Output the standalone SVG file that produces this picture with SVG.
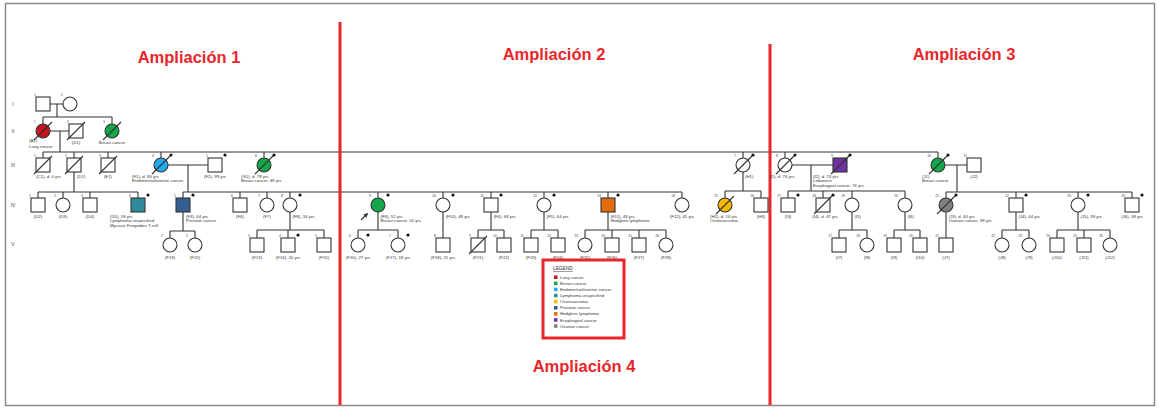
<svg xmlns="http://www.w3.org/2000/svg" xmlns:xlink="http://www.w3.org/1999/xlink" width="1159" height="408" viewBox="0 0 1159 408">
<style>
.s{fill:#fff;stroke:#333;stroke-width:1.1}
.ln{fill:none;stroke:#333;stroke-width:1.1}
.t{font-family:"Liberation Sans",Arial,sans-serif;font-size:4.3px;fill:#333}
.c{text-anchor:middle}
.n{font-family:"Liberation Sans",Arial,sans-serif;font-size:3.4px;fill:#444;text-anchor:end}
.g{font-family:"Liberation Sans",Arial,sans-serif;font-size:5px;fill:#444;text-anchor:middle}
.ttl{font-family:"Liberation Sans",Arial,sans-serif;font-size:16.5px;font-weight:bold;fill:#e8262b;text-anchor:middle}
.rl{stroke:#e8262b;stroke-width:3}
.lung{fill:#c8141e}.breast{fill:#12a84a}.endo{fill:#22aaee}.lymph{fill:#2f8a9c}.osteo{fill:#f7b900}.prost{fill:#365f91}.hodg{fill:#e46c0a}.eso{fill:#7030a0}.ova{fill:#808080}
</style>
<defs>
<line id="sl" x1="-9" y1="9" x2="9" y2="-9" stroke="#333" stroke-width="1.1"/>
<circle id="dt" cx="10" cy="-10" r="1.6" fill="#111"/>
<marker id="ah" viewBox="0 0 6 6" refX="5" refY="3" markerWidth="4" markerHeight="4" orient="auto"><path d="M0,0 L6,3 L0,6 z" fill="#333"/></marker>
</defs>
<rect x="5.5" y="3.5" width="1149" height="402" fill="#fff" stroke="#8a8a8a" stroke-width="1.5"/>
<g id="titles">
<text class="ttl" x="189" y="63">Ampliación 1</text>
<text class="ttl" x="554" y="60">Ampliación 2</text>
<text class="ttl" x="964" y="60">Ampliación 3</text>
<text class="ttl" x="584" y="372">Ampliación 4</text>
</g>
<g id="generations">
<text class="g" x="13" y="106">I</text>
<text class="g" x="13" y="133">II</text>
<text class="g" x="13" y="167">III</text>
<text class="g" x="13" y="207">IV</text>
<text class="g" x="13" y="246">V</text>
</g>
<g id="connectors" class="ln">
<path d="M50,104H63M57,104V117M43,117H112M43,117V124M112,117V124"/>
<path d="M50,131H69M60,131V152M43,152H938M43,152V158M74,152V158M108,152V158M161,152V158M264,152V158M743,152V158M785,152V158M938,152V158"/>
<path d="M74,172V192M38,192H138M38,192V198M63,192V198M90,192V198M138,192V198"/>
<path d="M168,165H208M188,165V192M183,192H682M183,192V198M240,192V198M267,192V198M290,192V198M378,192V198M443,192V198M491,192V198M544,192V198M608,192V198M682,192V198"/>
<path d="M183,212V231M170,231H195M170,231V238M195,231V238"/>
<path d="M290,212V230M257,230H324M257,230V238M288,230V238M324,230V238"/>
<path d="M378,212V230M358,230H398M358,230V238M398,230V238"/>
<path d="M443,212V238"/>
<path d="M491,212V230M478,230H504M478,230V238M504,230V238"/>
<path d="M544,212V230M531,230H558M531,230V238M558,230V238"/>
<path d="M608,212V230M585,230H666M585,230V238M612,230V238M639,230V238M666,230V238"/>
<path d="M743,172V191M725,191H761M725,191V198M761,191V198"/>
<path d="M792,165H833M811,165V191M788,191H905M788,191V198M823,191V198M852,191V198M905,191V198"/>
<path d="M852,212V230M839,230H867M839,230V238M867,230V238"/>
<path d="M905,212V230M894,230H920M894,230V238M920,230V238"/>
<path d="M945,165H967M957,165V192M946,192H1132M946,192V198M1016,192V198M1078,192V198M1132,192V198"/>
<path d="M946,212V238"/>
<path d="M1016,212V230M1002,230H1029M1002,230V238M1029,230V238"/>
<path d="M1078,212V230M1057,230H1110M1057,230V238M1084,230V238M1110,230V238"/>
<path d="M361,220L367.5,213.5" marker-end="url(#ah)"/>
</g>
<g id="red-lines">
<line class="rl" x1="340" y1="22" x2="340" y2="405"/>
<line class="rl" x1="770" y1="44" x2="770" y2="405"/>
</g>
<!-- Generation I -->
<g id="I-1" transform="translate(43,104)"><rect class="s" x="-7" y="-7" width="14" height="14"/><text class="n" x="-7" y="-8">1</text></g>
<g id="I-2" transform="translate(70,104)"><circle class="s" r="7"/><text class="n" x="-7" y="-8">2</text></g>
<!-- Generation II -->
<g id="A1" transform="translate(43,131)"><circle class="s lung" r="7"/><use href="#sl"/><text class="n" x="-7" y="-8">1</text><text class="t" x="-14" y="10.5">(A1)</text><text class="t" x="-14" y="16.5">Lung cancer</text></g>
<g id="D1-II" transform="translate(76,131)"><rect class="s" x="-7" y="-7" width="14" height="14"/><use href="#sl"/><text class="n" x="-7" y="-8">2</text><text class="t c" x="0" y="12.5">(D1)</text></g>
<g id="II-3" transform="translate(112,131)"><circle class="s breast" r="7"/><use href="#sl"/><text class="n" x="-7" y="-8">3</text><text class="t c" x="0" y="12.5">Breast cancer</text></g>
<!-- Generation III -->
<g id="C1" transform="translate(43,165)"><rect class="s" x="-7" y="-7" width="14" height="14"/><use href="#sl"/><text class="n" x="-7" y="-8">1</text><text class="t" x="-7" y="12.5">(C1), d. 0 yrs</text></g>
<g id="D1" transform="translate(74,165)"><rect class="s" x="-7" y="-7" width="14" height="14"/><use href="#sl"/><text class="n" x="-7" y="-8">2</text><text class="t" x="3" y="12.5">(D1)</text></g>
<g id="E1" transform="translate(108,165)"><rect class="s" x="-7" y="-7" width="14" height="14"/><use href="#sl"/><text class="n" x="-7" y="-8">3</text><text class="t c" x="0" y="12.5">(E1)</text></g>
<g id="F1" transform="translate(161,165)"><circle class="s endo" r="7"/><use href="#sl"/><use href="#dt"/><text class="n" x="-7" y="-8">4</text><text class="t" x="-29" y="12.5">(F1), d. 86 yrs</text><text class="t" x="-29" y="17">Endometrial/uterine cancer</text></g>
<g id="F2" transform="translate(215,165)"><rect class="s" x="-7" y="-7" width="14" height="14"/><use href="#dt"/><text class="n" x="-7" y="-8">5</text><text class="t c" x="0" y="12.5">(F2), 99 yrs</text></g>
<g id="G1" transform="translate(264,165)"><circle class="s breast" r="7"/><use href="#sl"/><use href="#dt"/><text class="n" x="-7" y="-8">6</text><text class="t" x="-23" y="12.5">(G1), d. 78 yrs</text><text class="t" x="-23" y="17">Breast cancer, 49 yrs</text></g>
<g id="H1" transform="translate(743,165)"><circle class="s" r="7"/><use href="#sl"/><use href="#dt"/><text class="n" x="-7" y="-8">7</text><text class="t" x="2" y="12.5">(H1)</text></g>
<g id="I1" transform="translate(785,165)"><circle class="s" r="7"/><use href="#sl"/><use href="#dt"/><text class="n" x="-7" y="-8">8</text><text class="t" x="-16" y="12.5">(I1), d. 76 yrs</text></g>
<g id="I2" transform="translate(840,165)"><rect class="s eso" x="-7" y="-7" width="14" height="14"/><use href="#sl"/><use href="#dt"/><text class="n" x="-7" y="-8">9</text><text class="t" x="-27" y="12.5">(I2), d. 74 yrs</text><text class="t" x="-27" y="17">Lebanese</text><text class="t" x="-27" y="21.5">Esophageal cancer, 74 yrs</text></g>
<g id="J1" transform="translate(938,165)"><circle class="s breast" r="7"/><use href="#sl"/><use href="#dt"/><text class="n" x="-7" y="-8">10</text><text class="t" x="-16" y="12.5">(J1)</text><text class="t" x="-16" y="17">Breast cancer</text></g>
<g id="J2" transform="translate(974,165)"><rect class="s" x="-7" y="-7" width="14" height="14"/><text class="n" x="-7" y="-8">11</text><text class="t c" x="0" y="12.5">(J2)</text></g>
<!-- Generation IV -->
<g id="D2" transform="translate(38,205)"><rect class="s" x="-7" y="-7" width="14" height="14"/><text class="n" x="-7" y="-8">1</text><text class="t c" x="0" y="12.5">(D2)</text></g>
<g id="D3" transform="translate(63,205)"><circle class="s" r="7"/><text class="n" x="-7" y="-8">2</text><text class="t c" x="0" y="12.5">(D3)</text></g>
<g id="D4" transform="translate(90,205)"><rect class="s" x="-7" y="-7" width="14" height="14"/><text class="n" x="-7" y="-8">3</text><text class="t c" x="0" y="12.5">(D4)</text></g>
<g id="D5" transform="translate(138,205)"><rect class="s lymph" x="-7" y="-7" width="14" height="14"/><use href="#dt"/><text class="n" x="-7" y="-8">4</text><text class="t" x="-28" y="12.5">(D5), 58 yrs</text><text class="t" x="-28" y="17">Lymphoma unspecified</text><text class="t" x="-28" y="21.5">Mycosis Fungoides T-cell</text></g>
<g id="F3" transform="translate(183,205)"><rect class="s prost" x="-7" y="-7" width="14" height="14"/><use href="#dt"/><text class="n" x="-7" y="-8">5</text><text class="t" x="3" y="12.5">(F3), 64 yrs</text><text class="t" x="3" y="17">Prostate cancer</text></g>
<g id="F6" transform="translate(240,205)"><rect class="s" x="-7" y="-7" width="14" height="14"/><text class="n" x="-7" y="-8">6</text><text class="t c" x="0" y="12.5">(F6)</text></g>
<g id="F7" transform="translate(267,205)"><circle class="s" r="7"/><text class="n" x="-7" y="-8">7</text><text class="t c" x="0" y="12.5">(F7)</text></g>
<g id="F8" transform="translate(290,205)"><circle class="s" r="7"/><use href="#dt"/><text class="n" x="-7" y="-8">8</text><text class="t" x="2.5" y="12.5">(F8), 34 yrs</text></g>
<g id="F9" transform="translate(378,205)"><circle class="s breast" r="7"/><use href="#dt"/><text class="n" x="-7" y="-8">9</text><text class="t" x="2.5" y="12.5">(F9), 52 yrs</text><text class="t" x="2.5" y="17">Breast cancer, 50 yrs</text></g>
<g id="F10" transform="translate(443,205)"><circle class="s" r="7"/><use href="#dt"/><text class="n" x="-7" y="-8">10</text><text class="t" x="2.5" y="12.5">(F10), 48 yrs</text></g>
<g id="F4" transform="translate(491,205)"><rect class="s" x="-7" y="-7" width="14" height="14"/><use href="#dt"/><text class="n" x="-7" y="-8">11</text><text class="t" x="2.5" y="12.5">(F4), 68 yrs</text></g>
<g id="F5" transform="translate(544,205)"><circle class="s" r="7"/><use href="#dt"/><text class="n" x="-7" y="-8">12</text><text class="t" x="2.5" y="12.5">(F5), 64 yrs</text></g>
<g id="F11" transform="translate(608,205)"><rect class="s hodg" x="-7" y="-7" width="14" height="14"/><use href="#dt"/><text class="n" x="-7" y="-8">13</text><text class="t" x="2.5" y="12.5">(F11), 48 yrs</text><text class="t" x="2.5" y="17">Hodgkins lymphoma</text></g>
<g id="F12" transform="translate(682,205)"><circle class="s" r="7"/><text class="n" x="-7" y="-8">14</text><text class="t c" x="0" y="12.5">(F12), 45 yrs</text></g>
<g id="H2" transform="translate(725,205)"><circle class="s osteo" r="7"/><use href="#sl"/><text class="n" x="-7" y="-8">15</text><text class="t" x="-15" y="12.5">(H2), d. 16 yrs</text><text class="t" x="-15" y="17">Osteosarcoma</text></g>
<g id="H3" transform="translate(761,205)"><rect class="s" x="-7" y="-7" width="14" height="14"/><text class="n" x="-7" y="-8">16</text><text class="t c" x="0" y="12.5">(H3)</text></g>
<g id="I3" transform="translate(788,205)"><rect class="s" x="-7" y="-7" width="14" height="14"/><use href="#dt"/><text class="n" x="-7" y="-8">17</text><text class="t c" x="0" y="12.5">(I3)</text></g>
<g id="I4" transform="translate(823,205)"><rect class="s" x="-7" y="-7" width="14" height="14"/><use href="#sl"/><use href="#dt"/><text class="n" x="-7" y="-8">18</text><text class="t c" x="2" y="12.5">(I4), d. 47 yrs</text></g>
<g id="I5" transform="translate(852,205)"><circle class="s" r="7"/><text class="n" x="-7" y="-8">19</text><text class="t" x="2.5" y="12.5">(I5)</text></g>
<g id="I6" transform="translate(905,205)"><circle class="s" r="7"/><text class="n" x="-7" y="-8">20</text><text class="t" x="2.5" y="12.5">(I6)</text></g>
<g id="J3" transform="translate(946,205)"><circle class="s ova" r="7"/><use href="#sl"/><use href="#dt"/><text class="n" x="-7" y="-8">21</text><text class="t" x="2.5" y="12.5">(J3), d. 44 yrs</text><text class="t" x="2.5" y="17">Ovarian cancer, 38 yrs</text></g>
<g id="J4" transform="translate(1016,205)"><rect class="s" x="-7" y="-7" width="14" height="14"/><use href="#dt"/><text class="n" x="-7" y="-8">22</text><text class="t" x="2.5" y="12.5">(J4), 44 yrs</text></g>
<g id="J5" transform="translate(1078,205)"><circle class="s" r="7"/><use href="#dt"/><text class="n" x="-7" y="-8">23</text><text class="t" x="2.5" y="12.5">(J5), 39 yrs</text></g>
<g id="J6" transform="translate(1132,205)"><rect class="s" x="-7" y="-7" width="14" height="14"/><use href="#dt"/><text class="n" x="-7" y="-8">24</text><text class="t c" x="0" y="12.5">(J6), 38 yrs</text></g>
<!-- Generation V -->
<g id="F19" transform="translate(170,245)"><circle class="s" r="7"/><text class="n" x="-7" y="-8">1</text><text class="t c" x="0" y="13.5">(F19)</text></g>
<g id="F20" transform="translate(195,245)"><circle class="s" r="7"/><text class="n" x="-7" y="-8">2</text><text class="t c" x="0" y="13.5">(F20)</text></g>
<g id="F13" transform="translate(257,245)"><rect class="s" x="-7" y="-7" width="14" height="14"/><text class="n" x="-7" y="-8">3</text><text class="t c" x="0" y="13.5">(F13)</text></g>
<g id="F14" transform="translate(288,245)"><rect class="s" x="-7" y="-7" width="14" height="14"/><use href="#dt"/><text class="n" x="-7" y="-8">4</text><text class="t c" x="0" y="13.5">(F14), 20 yrs</text></g>
<g id="F15" transform="translate(324,245)"><rect class="s" x="-7" y="-7" width="14" height="14"/><text class="n" x="-7" y="-8">5</text><text class="t c" x="0" y="13.5">(F15)</text></g>
<g id="F16" transform="translate(358,245)"><circle class="s" r="7"/><use href="#dt"/><text class="n" x="-7" y="-8">6</text><text class="t c" x="0" y="13.5">(F16), 27 yrs</text></g>
<g id="F17" transform="translate(398,245)"><circle class="s" r="7"/><use href="#dt"/><text class="n" x="-7" y="-8">7</text><text class="t c" x="0" y="13.5">(F17), 18 yrs</text></g>
<g id="F18" transform="translate(443,245)"><rect class="s" x="-7" y="-7" width="14" height="14"/><text class="n" x="-7" y="-8">8</text><text class="t c" x="0" y="13.5">(F18), 21 yrs</text></g>
<g id="F21" transform="translate(478,245)"><rect class="s" x="-7" y="-7" width="14" height="14"/><use href="#sl"/><text class="n" x="-7" y="-8">9</text><text class="t c" x="0" y="13.5">(F21)</text></g>
<g id="F22" transform="translate(504,245)"><rect class="s" x="-7" y="-7" width="14" height="14"/><text class="n" x="-7" y="-8">10</text><text class="t c" x="0" y="13.5">(F22)</text></g>
<g id="F23" transform="translate(531,245)"><rect class="s" x="-7" y="-7" width="14" height="14"/><text class="n" x="-7" y="-8">11</text><text class="t c" x="0" y="13.5">(F23)</text></g>
<g id="F24" transform="translate(558,245)"><rect class="s" x="-7" y="-7" width="14" height="14"/><text class="n" x="-7" y="-8">12</text><text class="t c" x="0" y="13.5">(F24)</text></g>
<g id="F25" transform="translate(585,245)"><circle class="s" r="7"/><text class="n" x="-7" y="-8">13</text><text class="t c" x="0" y="13.5">(F25)</text></g>
<g id="F26" transform="translate(612,245)"><rect class="s" x="-7" y="-7" width="14" height="14"/><text class="n" x="-7" y="-8">14</text><text class="t c" x="0" y="13.5">(F26)</text></g>
<g id="F27" transform="translate(639,245)"><rect class="s" x="-7" y="-7" width="14" height="14"/><text class="n" x="-7" y="-8">15</text><text class="t c" x="0" y="13.5">(F27)</text></g>
<g id="F28" transform="translate(666,245)"><circle class="s" r="7"/><text class="n" x="-7" y="-8">16</text><text class="t c" x="0" y="13.5">(F28)</text></g>
<g id="I7" transform="translate(839,245)"><rect class="s" x="-7" y="-7" width="14" height="14"/><text class="n" x="-7" y="-8">17</text><text class="t c" x="0" y="13.5">(I7)</text></g>
<g id="I8" transform="translate(867,245)"><circle class="s" r="7"/><text class="n" x="-7" y="-8">18</text><text class="t c" x="0" y="13.5">(I8)</text></g>
<g id="I9" transform="translate(894,245)"><rect class="s" x="-7" y="-7" width="14" height="14"/><text class="n" x="-7" y="-8">19</text><text class="t c" x="0" y="13.5">(I9)</text></g>
<g id="I10" transform="translate(920,245)"><rect class="s" x="-7" y="-7" width="14" height="14"/><text class="n" x="-7" y="-8">20</text><text class="t c" x="0" y="13.5">(I10)</text></g>
<g id="J7" transform="translate(946,245)"><rect class="s" x="-7" y="-7" width="14" height="14"/><text class="n" x="-7" y="-8">21</text><text class="t c" x="0" y="13.5">(J7)</text></g>
<g id="J8" transform="translate(1002,245)"><circle class="s" r="7"/><text class="n" x="-7" y="-8">22</text><text class="t c" x="0" y="13.5">(J8)</text></g>
<g id="J9" transform="translate(1029,245)"><circle class="s" r="7"/><text class="n" x="-7" y="-8">23</text><text class="t c" x="0" y="13.5">(J9)</text></g>
<g id="J10" transform="translate(1057,245)"><rect class="s" x="-7" y="-7" width="14" height="14"/><text class="n" x="-7" y="-8">24</text><text class="t c" x="0" y="13.5">(J10)</text></g>
<g id="J11" transform="translate(1084,245)"><rect class="s" x="-7" y="-7" width="14" height="14"/><text class="n" x="-7" y="-8">25</text><text class="t c" x="0" y="13.5">(J11)</text></g>
<g id="J12" transform="translate(1110,245)"><circle class="s" r="7"/><text class="n" x="-7" y="-8">26</text><text class="t c" x="0" y="13.5">(J12)</text></g>
<!-- Legend -->
<g id="legend">
<rect x="543" y="260" width="81" height="78" fill="none" stroke="#e8262b" stroke-width="3"/>
<text class="t" x="553" y="270" style="font-size:4.8px;text-decoration:underline">LEGEND</text>
<rect class="lung" x="554" y="275.5" width="3.5" height="3.5"/><text class="t" x="560" y="278.8">Lung cancer</text>
<rect class="breast" x="554" y="281.6" width="3.5" height="3.5"/><text class="t" x="560" y="284.9">Breast cancer</text>
<rect class="endo" x="554" y="287.7" width="3.5" height="3.5"/><text class="t" x="560" y="291">Endometrial/uterine cancer</text>
<rect class="lymph" x="554" y="293.8" width="3.5" height="3.5"/><text class="t" x="560" y="297.1">Lymphoma unspecified</text>
<rect class="osteo" x="554" y="299.9" width="3.5" height="3.5"/><text class="t" x="560" y="303.2">Osteosarcoma</text>
<rect class="prost" x="554" y="306" width="3.5" height="3.5"/><text class="t" x="560" y="309.3">Prostate cancer</text>
<rect class="hodg" x="554" y="312.1" width="3.5" height="3.5"/><text class="t" x="560" y="315.4">Hodgkins lymphoma</text>
<rect class="eso" x="554" y="318.2" width="3.5" height="3.5"/><text class="t" x="560" y="321.5">Esophageal cancer</text>
<rect class="ova" x="554" y="324.3" width="3.5" height="3.5"/><text class="t" x="560" y="327.6">Ovarian cancer</text>
</g>
</svg>
